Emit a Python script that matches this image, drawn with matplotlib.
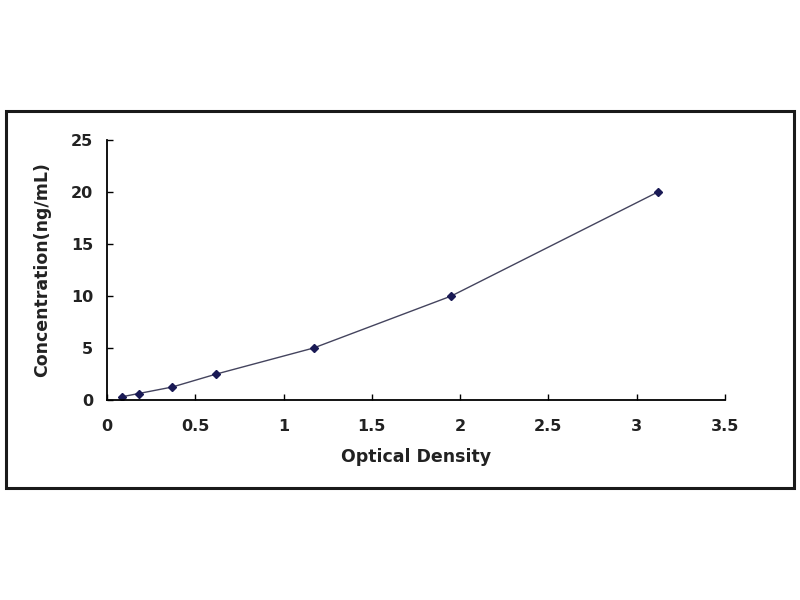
import matplotlib.pyplot as plt
import matplotlib.patches as mpatches

# standard curve points
optical_density = [0.085, 0.18, 0.37, 0.62, 1.17, 1.95, 3.12]
concentration = [0.312, 0.625, 1.25, 2.5, 5, 10, 20]

x_ticks = [0, 0.5, 1, 1.5, 2, 2.5, 3, 3.5]
x_tick_labels = ["0", "0.5", "1", "1.5", "2", "2.5", "3", "3.5"]
y_ticks = [0, 5, 10, 15, 20, 25]

plt.rcParams['font.family'] = ['DejaVu Sans']

fig = plt.figure(figsize=(8, 6), dpi=100)

# the dark frame round the chart area
frame = mpatches.Rectangle((6 / 800, 112 / 600), 788 / 800, 377 / 600,
                           transform=fig.transFigure, fill=False,
                           edgecolor="#1a1a1a", linewidth=2.2)
fig.patches.append(frame)

ax = fig.add_axes([107 / 800, 200 / 600, 618 / 800, 260 / 600])

ax.plot(optical_density, concentration, color="#44445e", linewidth=1.0,
        marker="D", markersize=4.5, markerfacecolor="#1a1a55", markeredgecolor="#1a1a55")

ax.set_xlim(0, 3.5)
ax.set_ylim(0, 25)
ax.set_xticks(x_ticks)
ax.set_xticklabels(x_tick_labels)
ax.set_yticks(y_ticks)

ax.spines['top'].set_visible(False)
ax.spines['right'].set_visible(False)
ax.spines['left'].set_linewidth(1.3)
ax.spines['bottom'].set_linewidth(1.3)
ax.tick_params(direction="in", length=4, width=1, labelsize=11.5)
ax.tick_params(axis="x", pad=14)
ax.tick_params(axis="y", pad=10)
for lbl in ax.get_xticklabels() + ax.get_yticklabels():
    lbl.set_fontweight("bold")
    lbl.set_color("#222222")

ax.set_xlabel("Optical Density", fontsize=12.5, fontweight="bold", labelpad=10, color="#222222")
ax.set_ylabel("Concentration(ng/mL)", fontsize=12.5, fontweight="bold", labelpad=14, color="#222222")

plt.savefig("out.png")
print("out.png created")
